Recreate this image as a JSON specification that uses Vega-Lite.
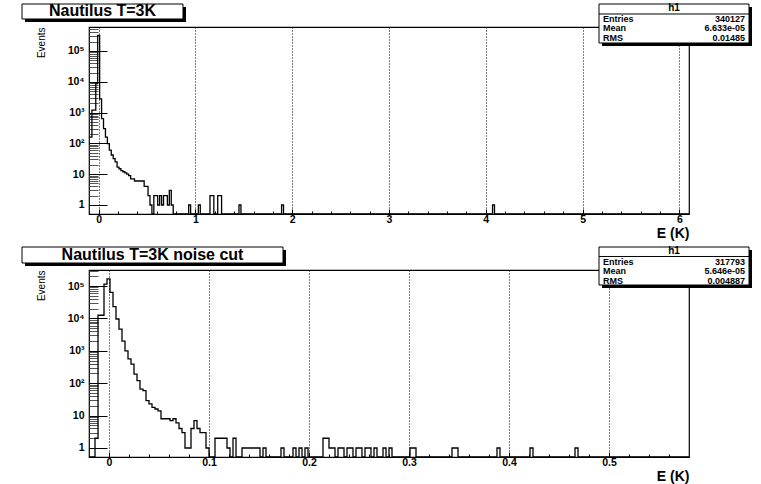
{
  "$schema": "https://vega.github.io/schema/vega-lite/v6.json",
  "background": "white",
  "padding": {"left": 20, "top": 2, "right": 5, "bottom": 5},
  "config": {
    "font": "Liberation Sans",
    "view": {"stroke": "#000", "strokeWidth": 1.2}
  },
  "spacing": 56,
  "bounds": "flush",
  "datasets": {
    "top": [
      {"E": -0.11, "n": 160}, {"E": -0.07, "n": 1200}, {"E": -0.05, "n": 1200}, {"E": -0.03, "n": 8700},
      {"E": -0.01, "n": 320000}, {"E": 0.01, "n": 2800}, {"E": 0.03, "n": 640}, {"E": 0.05, "n": 300},
      {"E": 0.07, "n": 160}, {"E": 0.09, "n": 98}, {"E": 0.11, "n": 60}, {"E": 0.13, "n": 42},
      {"E": 0.15, "n": 32}, {"E": 0.17, "n": 25}, {"E": 0.19, "n": 17}, {"E": 0.21, "n": 15},
      {"E": 0.23, "n": 13}, {"E": 0.25, "n": 12}, {"E": 0.27, "n": 11}, {"E": 0.29, "n": 10},
      {"E": 0.31, "n": 9}, {"E": 0.33, "n": 7}, {"E": 0.35, "n": 7}, {"E": 0.37, "n": 6},
      {"E": 0.39, "n": 6}, {"E": 0.41, "n": 6}, {"E": 0.43, "n": 6}, {"E": 0.45, "n": 6},
      {"E": 0.47, "n": 4}, {"E": 0.49, "n": 4}, {"E": 0.51, "n": 2}, {"E": 0.53, "n": 1},
      {"E": 0.55, "n": 0}, {"E": 0.57, "n": 2}, {"E": 0.59, "n": 2}, {"E": 0.61, "n": 1},
      {"E": 0.63, "n": 2}, {"E": 0.65, "n": 1}, {"E": 0.67, "n": 2}, {"E": 0.69, "n": 2},
      {"E": 0.71, "n": 1}, {"E": 0.73, "n": 3}, {"E": 0.75, "n": 1}, {"E": 0.77, "n": 0},
      {"E": 0.93, "n": 1}, {"E": 0.95, "n": 0}, {"E": 1.03, "n": 1}, {"E": 1.05, "n": 0},
      {"E": 1.15, "n": 2}, {"E": 1.17, "n": 2}, {"E": 1.19, "n": 0}, {"E": 1.23, "n": 2},
      {"E": 1.25, "n": 2}, {"E": 1.27, "n": 0}, {"E": 1.45, "n": 1}, {"E": 1.47, "n": 0},
      {"E": 1.89, "n": 1}, {"E": 1.91, "n": 0}, {"E": 4.07, "n": 1}, {"E": 4.09, "n": 0},
      {"E": 6.11, "n": 0}
    ],
    "bottom": [
      {"E": -0.02, "n": 0}, {"E": -0.014, "n": 2}, {"E": -0.011, "n": 12500}, {"E": -0.008, "n": 12500},
      {"E": -0.005, "n": 115000}, {"E": -0.002, "n": 165000}, {"E": 0.001, "n": 64000}, {"E": 0.004, "n": 23000},
      {"E": 0.007, "n": 9600}, {"E": 0.01, "n": 4700}, {"E": 0.013, "n": 2000}, {"E": 0.016, "n": 1000},
      {"E": 0.019, "n": 560}, {"E": 0.022, "n": 390}, {"E": 0.025, "n": 190}, {"E": 0.028, "n": 120},
      {"E": 0.031, "n": 66}, {"E": 0.034, "n": 59}, {"E": 0.037, "n": 29}, {"E": 0.04, "n": 23},
      {"E": 0.043, "n": 18}, {"E": 0.046, "n": 16}, {"E": 0.049, "n": 14}, {"E": 0.052, "n": 8},
      {"E": 0.055, "n": 8}, {"E": 0.058, "n": 8}, {"E": 0.061, "n": 7}, {"E": 0.064, "n": 8},
      {"E": 0.067, "n": 6}, {"E": 0.07, "n": 4}, {"E": 0.073, "n": 3}, {"E": 0.076, "n": 1},
      {"E": 0.079, "n": 1}, {"E": 0.082, "n": 4}, {"E": 0.085, "n": 7}, {"E": 0.088, "n": 4},
      {"E": 0.091, "n": 3}, {"E": 0.094, "n": 3}, {"E": 0.097, "n": 1}, {"E": 0.1, "n": 0},
      {"E": 0.106, "n": 2}, {"E": 0.109, "n": 2}, {"E": 0.112, "n": 2}, {"E": 0.115, "n": 2},
      {"E": 0.118, "n": 1}, {"E": 0.121, "n": 0}, {"E": 0.124, "n": 2}, {"E": 0.127, "n": 0},
      {"E": 0.133, "n": 1}, {"E": 0.136, "n": 1}, {"E": 0.139, "n": 1}, {"E": 0.142, "n": 1},
      {"E": 0.145, "n": 1}, {"E": 0.148, "n": 1}, {"E": 0.151, "n": 0}, {"E": 0.154, "n": 1},
      {"E": 0.157, "n": 0}, {"E": 0.172, "n": 1}, {"E": 0.175, "n": 0}, {"E": 0.184, "n": 1},
      {"E": 0.187, "n": 0}, {"E": 0.19, "n": 1}, {"E": 0.193, "n": 0}, {"E": 0.196, "n": 1},
      {"E": 0.199, "n": 0}, {"E": 0.214, "n": 2}, {"E": 0.217, "n": 2}, {"E": 0.22, "n": 1},
      {"E": 0.223, "n": 1}, {"E": 0.226, "n": 0}, {"E": 0.229, "n": 1}, {"E": 0.232, "n": 1},
      {"E": 0.235, "n": 0}, {"E": 0.238, "n": 1}, {"E": 0.241, "n": 1}, {"E": 0.244, "n": 0},
      {"E": 0.247, "n": 1}, {"E": 0.25, "n": 1}, {"E": 0.253, "n": 0}, {"E": 0.256, "n": 1},
      {"E": 0.259, "n": 1}, {"E": 0.262, "n": 0}, {"E": 0.265, "n": 1}, {"E": 0.268, "n": 0},
      {"E": 0.274, "n": 1}, {"E": 0.277, "n": 0}, {"E": 0.28, "n": 1}, {"E": 0.283, "n": 0},
      {"E": 0.301, "n": 1}, {"E": 0.304, "n": 1}, {"E": 0.307, "n": 0}, {"E": 0.343, "n": 1},
      {"E": 0.346, "n": 1}, {"E": 0.349, "n": 0}, {"E": 0.388, "n": 1}, {"E": 0.391, "n": 0},
      {"E": 0.421, "n": 1}, {"E": 0.424, "n": 0}, {"E": 0.466, "n": 1}, {"E": 0.469, "n": 0},
      {"E": 0.58, "n": 0}
    ]
  },
  "vconcat": [
    {
      "width": 600,
      "height": 187,
      "resolve": {"scale": {"y": "independent", "x": "independent"}},
      "layer": [
        {
          "data": {"name": "top"},
          "mark": {"type": "line", "interpolate": "step-after", "color": "#000", "strokeWidth": 1.3, "clip": true},
          "encoding": {
            "x": {
              "field": "E", "type": "quantitative",
              "scale": {"domain": [-0.1, 6.1], "nice": false, "zero": false},
              "axis": {
                "values": [0,0.2,0.4,0.6,0.8,1,1.2,1.4,1.6,1.8,2,2.2,2.4,2.6,2.8,3,3.2,3.4,3.6,3.8,4,4.2,4.4,4.6,4.8,5,5.2,5.4,5.6,5.8,6],
                "domain": false,
                "grid": true, "gridColor": "#000", "gridDash": [1, 2], "gridWidth": 1,
                "gridOpacity": {"condition": {"test": "abs(datum.value - round(datum.value)) < 0.000001", "value": 1}, "value": 0},
                "tickColor": "#000",
                "tickSize": {"condition": {"test": "abs(datum.value - round(datum.value)) < 0.000001", "value": -5}, "value": -3},
                "labelPadding": 5,
                "labelFlush": false, "labelOverlap": false,
                "labelExpr": "abs(datum.value - round(datum.value)) < 0.000001 ? toString(round(datum.value)) : ''",
                "labelFont": "Liberation Sans", "labelFontWeight": "bold", "labelFontSize": 10.5, "labelColor": "#000",
                "title": "E (K)", "titleFont": "Liberation Sans", "titleFontWeight": "bold", "titleFontSize": 14, "titleColor": "#000",
                "titleAnchor": "end", "titlePadding": 8, "minExtent": 4, "maxExtent": 4
              }
            },
            "y": {
              "field": "n", "type": "quantitative",
              "scale": {"type": "log", "domain": [0.51, 600000], "nice": false, "clamp": true},
              "axis": {
                "values": [1,2,3,4,5,6,7,8,9,10,20,30,40,50,60,70,80,90,100,200,300,400,500,600,700,800,900,1000,2000,3000,4000,5000,6000,7000,8000,9000,10000,20000,30000,40000,50000,60000,70000,80000,90000,100000,200000,300000,400000,500000],
                "domain": false, "grid": false,
                "tickColor": {"condition": {"test": "abs(log(datum.value)/LN10 - round(log(datum.value)/LN10)) < 0.000001", "value": "#000"}, "value": "#555"},
                "tickSize": {"condition": {"test": "abs(log(datum.value)/LN10 - round(log(datum.value)/LN10)) < 0.000001", "value": -18}, "value": -9},
                "labelPadding": 23,
                "labelFlush": false, "labelOverlap": false,
                "labelExpr": "datum.value == 1 ? '1' : datum.value == 10 ? '10' : datum.value == 100 ? '10²' : datum.value == 1000 ? '10³' : datum.value == 10000 ? '10⁴' : datum.value == 100000 ? '10⁵' : ''",
                "labelFont": "Liberation Sans", "labelFontWeight": "bold", "labelFontSize": 10.5, "labelColor": "#000",
                "title": "Events", "titleFont": "Liberation Sans", "titleFontWeight": "normal", "titleFontSize": 10, "titleColor": "#000",
                "titleAnchor": "end", "titlePadding": 21, "minExtent": 22, "maxExtent": 22
              }
            }
          }
        },
        {
          "layer": [
            {
              "data": {"values": [{}]},
              "mark": {"type": "rect", "fill": "#000"},
              "encoding": {
                "x": {"datum": -0.7613, "type": "quantitative", "scale": {"domain": [-0.1, 6.1], "nice": false, "zero": false}, "axis": null},
                "x2": {"datum": 0.9023},
                "y": {"datum": 2676000, "type": "quantitative", "scale": {"type": "log", "domain": [0.51, 600000], "nice": false}, "axis": null},
                "y2": {"datum": 872100}
              }
            },
            {
              "data": {"values": [{}]},
              "mark": {"type": "rect", "fill": "#fff", "stroke": "#000", "strokeWidth": 1},
              "encoding": {
                "x": {"datum": -0.7923, "type": "quantitative", "scale": {"domain": [-0.1, 6.1], "nice": false, "zero": false}, "axis": null},
                "x2": {"datum": 0.8713},
                "y": {"datum": 3348000, "type": "quantitative", "scale": {"type": "log", "domain": [0.51, 600000], "nice": false}, "axis": null},
                "y2": {"datum": 1091200}
              }
            },
            {
              "data": {"values": [{}]},
              "mark": {"type": "text", "font": "Liberation Sans", "fontWeight": "bold", "fontSize": 16, "align": "center", "baseline": "middle", "color": "#000"},
              "encoding": {
                "x": {"datum": 0.0395, "type": "quantitative", "scale": {"domain": [-0.1, 6.1], "nice": false, "zero": false}, "axis": null},
                "y": {"datum": 1911800, "type": "quantitative", "scale": {"type": "log", "domain": [0.51, 600000], "nice": false}, "axis": null},
                "text": {"value": "Nautilus T=3K"}
              }
            },
            {
              "data": {"values": [{}]},
              "mark": {"type": "rect", "fill": "#000"},
              "encoding": {
                "x": {"datum": 5.201, "type": "quantitative", "scale": {"domain": [-0.1, 6.1], "nice": false, "zero": false}, "axis": null},
                "x2": {"datum": 6.751},
                "y": {"datum": 2676000, "type": "quantitative", "scale": {"type": "log", "domain": [0.51, 600000], "nice": false}, "axis": null},
                "y2": {"datum": 145030}
              }
            },
            {
              "data": {"values": [{}]},
              "mark": {"type": "rect", "fill": "#fff", "stroke": "#000", "strokeWidth": 1},
              "encoding": {
                "x": {"datum": 5.17, "type": "quantitative", "scale": {"domain": [-0.1, 6.1], "nice": false, "zero": false}, "axis": null},
                "x2": {"datum": 6.72},
                "y": {"datum": 3348000, "type": "quantitative", "scale": {"type": "log", "domain": [0.51, 600000], "nice": false}, "axis": null},
                "y2": {"datum": 181490}
              }
            },
            {
              "data": {"values": [{}]},
              "mark": {"type": "rule", "color": "#000", "strokeWidth": 1},
              "encoding": {
                "x": {"datum": 5.17, "type": "quantitative", "scale": {"domain": [-0.1, 6.1], "nice": false, "zero": false}, "axis": null},
                "x2": {"datum": 6.72},
                "y": {"datum": 1585700, "type": "quantitative", "scale": {"type": "log", "domain": [0.51, 600000], "nice": false}, "axis": null}
              }
            },
            {
              "data": {"values": [{}]},
              "mark": {"type": "text", "font": "Liberation Sans", "fontWeight": "bold", "fontSize": 10, "align": "center", "baseline": "middle", "color": "#000"},
              "encoding": {
                "x": {"datum": 5.945, "type": "quantitative", "scale": {"domain": [-0.1, 6.1], "nice": false, "zero": false}, "axis": null},
                "y": {"datum": 2392000, "type": "quantitative", "scale": {"type": "log", "domain": [0.51, 600000], "nice": false}, "axis": null},
                "text": {"value": "h1"}
              }
            },
            {
              "data": {"values": [{}]},
              "mark": {"type": "text", "font": "Liberation Sans", "fontWeight": "bold", "fontSize": 9, "align": "left", "baseline": "middle", "lineHeight": 9.3, "color": "#000"},
              "encoding": {
                "x": {"datum": 5.2114, "type": "quantitative", "scale": {"domain": [-0.1, 6.1], "nice": false, "zero": false}, "axis": null},
                "y": {"datum": 1091200, "type": "quantitative", "scale": {"type": "log", "domain": [0.51, 600000], "nice": false}, "axis": null},
                "text": {"value": ["Entries", "Mean", "RMS"]}
              }
            },
            {
              "data": {"values": [{}]},
              "mark": {"type": "text", "font": "Liberation Sans", "fontWeight": "bold", "fontSize": 9, "align": "right", "baseline": "middle", "lineHeight": 9.3, "color": "#000"},
              "encoding": {
                "x": {"datum": 6.6787, "type": "quantitative", "scale": {"domain": [-0.1, 6.1], "nice": false, "zero": false}, "axis": null},
                "y": {"datum": 1091200, "type": "quantitative", "scale": {"type": "log", "domain": [0.51, 600000], "nice": false}, "axis": null},
                "text": {"value": ["340127", "6.633e-05", "0.01485"]}
              }
            }
          ]
        }
      ]
    },
    {
      "width": 600,
      "height": 187,
      "resolve": {"scale": {"y": "independent", "x": "independent"}},
      "layer": [
        {
          "data": {"name": "bottom"},
          "mark": {"type": "line", "interpolate": "step-after", "color": "#000", "strokeWidth": 1.3, "clip": true},
          "encoding": {
            "x": {
              "field": "E", "type": "quantitative",
              "scale": {"domain": [-0.02, 0.58], "nice": false, "zero": false},
              "axis": {
                "values": [0,0.02,0.04,0.06,0.08,0.1,0.12,0.14,0.16,0.18,0.2,0.22,0.24,0.26,0.28,0.3,0.32,0.34,0.36,0.38,0.4,0.42,0.44,0.46,0.48,0.5,0.52,0.54,0.56],
                "domain": false,
                "grid": true, "gridColor": "#000", "gridDash": [1, 2], "gridWidth": 1,
                "gridOpacity": {"condition": {"test": "abs(datum.value*10 - round(datum.value*10)) < 0.000001", "value": 1}, "value": 0},
                "tickColor": "#000",
                "tickSize": {"condition": {"test": "abs(datum.value*10 - round(datum.value*10)) < 0.000001", "value": -5}, "value": -3},
                "labelPadding": 5,
                "labelFlush": false, "labelOverlap": false,
                "labelExpr": "abs(datum.value*10 - round(datum.value*10)) < 0.000001 ? toString(round(datum.value*10)/10) : ''",
                "labelFont": "Liberation Sans", "labelFontWeight": "bold", "labelFontSize": 10.5, "labelColor": "#000",
                "title": "E (K)", "titleFont": "Liberation Sans", "titleFontWeight": "bold", "titleFontSize": 14, "titleColor": "#000",
                "titleAnchor": "end", "titlePadding": 8, "minExtent": 4, "maxExtent": 4
              }
            },
            "y": {
              "field": "n", "type": "quantitative",
              "scale": {"type": "log", "domain": [0.527, 312000], "nice": false, "clamp": true},
              "axis": {
                "values": [1,2,3,4,5,6,7,8,9,10,20,30,40,50,60,70,80,90,100,200,300,400,500,600,700,800,900,1000,2000,3000,4000,5000,6000,7000,8000,9000,10000,20000,30000,40000,50000,60000,70000,80000,90000,100000,200000,300000],
                "domain": false, "grid": false,
                "tickColor": {"condition": {"test": "abs(log(datum.value)/LN10 - round(log(datum.value)/LN10)) < 0.000001", "value": "#000"}, "value": "#555"},
                "tickSize": {"condition": {"test": "abs(log(datum.value)/LN10 - round(log(datum.value)/LN10)) < 0.000001", "value": -18}, "value": -9},
                "labelPadding": 23,
                "labelFlush": false, "labelOverlap": false,
                "labelExpr": "datum.value == 1 ? '1' : datum.value == 10 ? '10' : datum.value == 100 ? '10²' : datum.value == 1000 ? '10³' : datum.value == 10000 ? '10⁴' : datum.value == 100000 ? '10⁵' : ''",
                "labelFont": "Liberation Sans", "labelFontWeight": "bold", "labelFontSize": 10.5, "labelColor": "#000",
                "title": "Events", "titleFont": "Liberation Sans", "titleFontWeight": "normal", "titleFontSize": 10, "titleColor": "#000",
                "titleAnchor": "end", "titlePadding": 21, "minExtent": 22, "maxExtent": 22
              }
            }
          }
        },
        {
          "layer": [
            {
              "data": {"values": [{}]},
              "mark": {"type": "rect", "fill": "#000"},
              "encoding": {
                "x": {"datum": -0.084, "type": "quantitative", "scale": {"domain": [-0.02, 0.58], "nice": false, "zero": false}, "axis": null},
                "x2": {"datum": 0.177},
                "y": {"datum": 1292500, "type": "quantitative", "scale": {"type": "log", "domain": [0.527, 312000], "nice": false}, "axis": null},
                "y2": {"datum": 414480}
              }
            },
            {
              "data": {"values": [{}]},
              "mark": {"type": "rect", "fill": "#fff", "stroke": "#000", "strokeWidth": 1},
              "encoding": {
                "x": {"datum": -0.087, "type": "quantitative", "scale": {"domain": [-0.02, 0.58], "nice": false, "zero": false}, "axis": null},
                "x2": {"datum": 0.174},
                "y": {"datum": 1599800, "type": "quantitative", "scale": {"type": "log", "domain": [0.527, 312000], "nice": false}, "axis": null},
                "y2": {"datum": 513130}
              }
            },
            {
              "data": {"values": [{}]},
              "mark": {"type": "text", "font": "Liberation Sans", "fontWeight": "bold", "fontSize": 16, "align": "center", "baseline": "middle", "color": "#000"},
              "encoding": {
                "x": {"datum": 0.0435, "type": "quantitative", "scale": {"domain": [-0.02, 0.58], "nice": false, "zero": false}, "axis": null},
                "y": {"datum": 906020, "type": "quantitative", "scale": {"type": "log", "domain": [0.527, 312000], "nice": false}, "axis": null},
                "text": {"value": "Nautilus T=3K noise cut"}
              }
            },
            {
              "data": {"values": [{}]},
              "mark": {"type": "rect", "fill": "#000"},
              "encoding": {
                "x": {"datum": 0.493, "type": "quantitative", "scale": {"domain": [-0.02, 0.58], "nice": false, "zero": false}, "axis": null},
                "x2": {"datum": 0.643},
                "y": {"datum": 1292500, "type": "quantitative", "scale": {"type": "log", "domain": [0.527, 312000], "nice": false}, "axis": null},
                "y2": {"datum": 86800}
              }
            },
            {
              "data": {"values": [{}]},
              "mark": {"type": "rect", "fill": "#fff", "stroke": "#000", "strokeWidth": 1},
              "encoding": {
                "x": {"datum": 0.49, "type": "quantitative", "scale": {"domain": [-0.02, 0.58], "nice": false, "zero": false}, "axis": null},
                "x2": {"datum": 0.64},
                "y": {"datum": 1599800, "type": "quantitative", "scale": {"type": "log", "domain": [0.527, 312000], "nice": false}, "axis": null},
                "y2": {"datum": 107420}
              }
            },
            {
              "data": {"values": [{}]},
              "mark": {"type": "rule", "color": "#000", "strokeWidth": 1},
              "encoding": {
                "x": {"datum": 0.49, "type": "quantitative", "scale": {"domain": [-0.02, 0.58], "nice": false, "zero": false}, "axis": null},
                "x2": {"datum": 0.64},
                "y": {"datum": 814500, "type": "quantitative", "scale": {"type": "log", "domain": [0.527, 312000], "nice": false}, "axis": null}
              }
            },
            {
              "data": {"values": [{}]},
              "mark": {"type": "text", "font": "Liberation Sans", "fontWeight": "bold", "fontSize": 10, "align": "center", "baseline": "middle", "color": "#000"},
              "encoding": {
                "x": {"datum": 0.565, "type": "quantitative", "scale": {"domain": [-0.02, 0.58], "nice": false, "zero": false}, "axis": null},
                "y": {"datum": 1162200, "type": "quantitative", "scale": {"type": "log", "domain": [0.527, 312000], "nice": false}, "axis": null},
                "text": {"value": "h1"}
              }
            },
            {
              "data": {"values": [{}]},
              "mark": {"type": "text", "font": "Liberation Sans", "fontWeight": "bold", "fontSize": 9, "align": "left", "baseline": "middle", "lineHeight": 9.3, "color": "#000"},
              "encoding": {
                "x": {"datum": 0.494, "type": "quantitative", "scale": {"domain": [-0.02, 0.58], "nice": false, "zero": false}, "axis": null},
                "y": {"datum": 550830, "type": "quantitative", "scale": {"type": "log", "domain": [0.527, 312000], "nice": false}, "axis": null},
                "text": {"value": ["Entries", "Mean", "RMS"]}
              }
            },
            {
              "data": {"values": [{}]},
              "mark": {"type": "text", "font": "Liberation Sans", "fontWeight": "bold", "fontSize": 9, "align": "right", "baseline": "middle", "lineHeight": 9.3, "color": "#000"},
              "encoding": {
                "x": {"datum": 0.636, "type": "quantitative", "scale": {"domain": [-0.02, 0.58], "nice": false, "zero": false}, "axis": null},
                "y": {"datum": 550830, "type": "quantitative", "scale": {"type": "log", "domain": [0.527, 312000], "nice": false}, "axis": null},
                "text": {"value": ["317793", "5.646e-05", "0.004887"]}
              }
            }
          ]
        }
      ]
    }
  ]
}
